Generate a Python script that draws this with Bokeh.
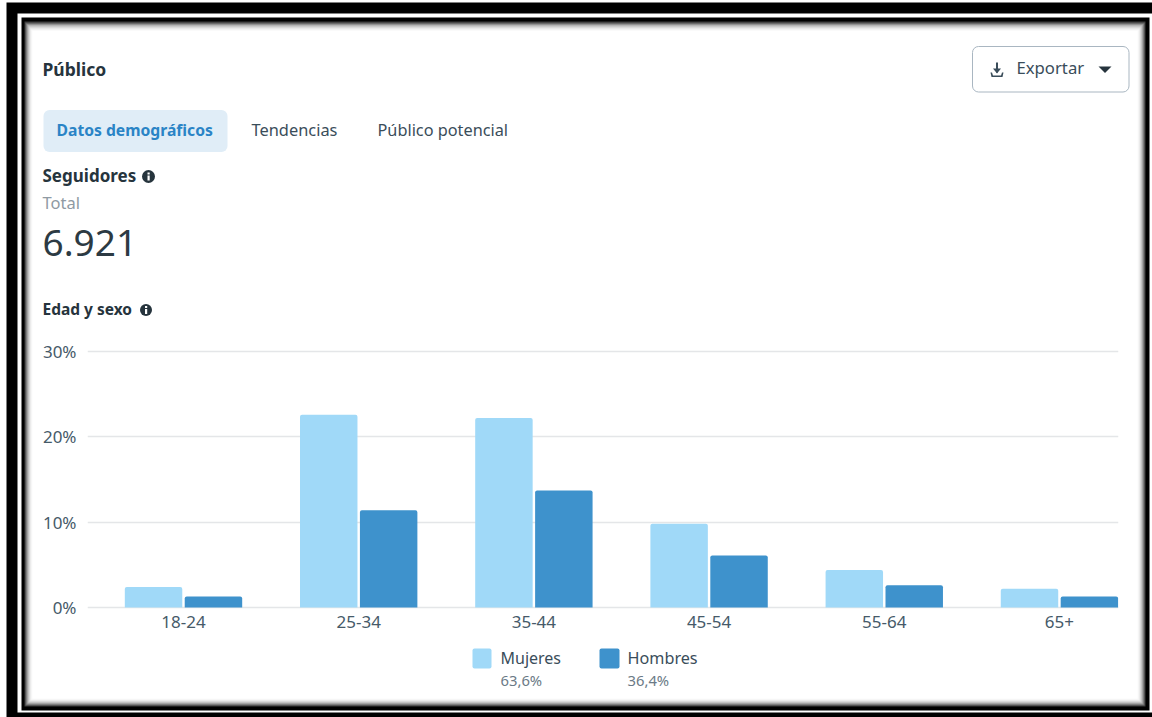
from bokeh.core.properties import value
from bokeh.embed import file_html
from bokeh.layouts import column
from bokeh.resources import INLINE
from bokeh.plotting import figure
from bokeh.models import Range1d, FixedTicker, ColumnDataSource

categories = ["18-24", "25-34", "35-44", "45-54", "55-64", "65+"]
mujeres = [2.4, 22.6, 22.2, 9.8, 4.4, 2.2]
hombres = [1.3, 11.4, 13.7, 6.1, 2.6, 1.3]
y_ticks = [0, 10, 20, 30]
y_labels = ["0%", "10%", "20%", "30%"]

W, H = 1152, 717
PAD = 2  # px of frame kept beyond 0% and 30%, so that their grid lines are not clipped
FL, FT, FR, FB = 87, 351 - PAD, 1118, 607 + PAD  # plot frame on the page
PX_PER_PCT = (607 - 351) / 30
FONT = "Noto Sans"
C_LIGHT, C_DARK = "#a0d9f8", "#3e92cc"
INK = "#26343d"
TXT = "#3a4d5a"

# page furniture: a figure whose data units are page pixels
bg = figure(width=W, height=H, output_backend="svg", toolbar_location=None,
            x_range=Range1d(0, W), y_range=Range1d(H, 0), frame_align=False,
            min_border=0, background_fill_color="white", border_fill_color="white", outline_line_color=None)
bg.axis.visible = False
bg.grid.visible = False


def box(x0, y0, x1, y1, color=None, line=None, radius=0):
    bg.quad(left=[x0], right=[x1], top=[y0], bottom=[y1], fill_color=color, fill_alpha=1 if color else 0,
            line_color=line, border_radius=radius)


def poly(pts, color):
    bg.patch([a for a, _ in pts], [b for _, b in pts], fill_color=color, line_color=None)


def info(cx, cy, r=6.5):
    bg.scatter([cx], [cy], size=2 * r, marker="circle", fill_color=INK, line_color=None)
    box(cx - 1, cy - 1, cx + 1.2, cy + 4, "white")
    box(cx - 1, cy - 4, cx + 1.2, cy - 2, "white")


def label(x, y, t, size, color=INK, weight="normal"):
    bg.text([x], [y], text=[t], text_font=value(FONT), text_font_size=f"{size}px", text_color=color,
            text_font_style=weight, text_align="left", text_baseline="middle")


# frame of the screenshot
box(6, 2, 1152, 717, "black")
box(17, 13, 1152, 712, "white")
box(21, 17, 1149, 710, "black")
shades = ["#3c3c3c", "#6a6a6a", "#929292", "#b4b4b4", "#cfcfcf", "#e4e4e4", "#f2f2f2", "#fafafa", "#ffffff"]
for i, c in enumerate(shades):
    box(24 + i, 21 + 1.2 * i, 1145 - i, 706 - i, c)

label(42, 68, "Público", 17.5, weight="bold")
box(972, 46, 1128.5, 91.5, "white", line="#a9b6c1", radius=6)
label(1016, 67, "Exportar", 16.7, color=TXT)
box(995.5, 62, 997.5, 72, TXT)
poly([(992.5, 68), (1000.5, 68), (996.5, 73)], TXT)
poly([(990, 72), (991.5, 72), (992.5, 75), (1000.5, 75), (1001.5, 72), (1003, 72), (1002, 76.5), (991, 76.5)], TXT)
poly([(1098, 66), (1111, 66), (1104.5, 72.5)], INK)

box(43, 109.5, 227, 151.5, "#e0edf7", radius=6)
label(56, 129, "Datos demográficos", 15.7, color="#2a84c6", weight="bold")
label(251, 129, "Tendencias", 16.4, color=TXT)
label(377, 129, "Público potencial", 16.3, color=TXT)
label(42, 175, "Seguidores", 17, weight="bold")
info(148, 176)
label(42, 202, "Total", 16.5, color="#8f9aa3")
label(42, 242, "6.921", 37, color="#2c3a43")
label(42, 308, "Edad y sexo", 15.5, weight="bold")
info(145.5, 309.5, 6)
box(472, 648, 491, 668, C_LIGHT, radius=2)
box(599, 648, 619, 668, C_DARK, radius=2)
label(500, 657, "Mujeres", 16, color=TXT)
label(627, 657, "Hombres", 16.2, color=TXT)
label(500, 679, "63,6%", 14.8, color="#6b7a86")
label(627, 679, "36,4%", 14.8, color="#6b7a86")

# the chart itself, transparent, over the furniture
p = figure(width=W, height=H, output_backend="svg", toolbar_location=None,
           x_range=Range1d(-0.548, 5.337), y_range=Range1d(-PAD / PX_PER_PCT, 30 + PAD / PX_PER_PCT),
           frame_align=False,
           min_border_left=FL, min_border_right=W - FR, min_border_top=FT, min_border_bottom=H - FB,
           background_fill_color=None, border_fill_color=None, outline_line_color=None)
p.margin = (-H, 0, 0, 0)

xs = list(range(len(categories)))
src = ColumnDataSource(dict(x=xs, m=mujeres, h=hombres,
                            xm=[v - 0.171 for v in xs], xh=[v + 0.171 for v in xs]))
rad = {"top_left": 2, "top_right": 2, "bottom_left": 0, "bottom_right": 0}
p.vbar(x="xm", top="m", width=0.328, bottom=0, source=src, fill_color=C_LIGHT, line_color=None, border_radius=rad)
p.vbar(x="xh", top="h", width=0.328, bottom=0, source=src, fill_color=C_DARK, line_color=None, border_radius=rad)

xa, ya = p.xaxis[0], p.yaxis[0]
xa.ticker = FixedTicker(ticks=xs)
xa.major_label_overrides = {i: c for i, c in enumerate(categories)}
ya.ticker = FixedTicker(ticks=y_ticks)
ya.major_label_overrides = dict(zip(y_ticks, y_labels))
for a in (xa, ya):
    a.axis_line_color = None
    a.major_tick_line_color = None
    a.minor_tick_line_color = None
    a.major_label_text_font = FONT
    a.major_label_text_font_size = "17px"
    a.major_label_text_color = "#465a69"
xa.major_label_standoff = 0
ya.major_label_standoff = 5
p.xgrid.visible = False
p.ygrid.ticker = FixedTicker(ticks=y_ticks)
p.ygrid.grid_line_color = "#e4e6e8"
p.ygrid.grid_line_width = 1.5
p.ygrid.level = "underlay"

root = column(bg, p, spacing=0)
open("out.html", "w").write(file_html(root, INLINE))
